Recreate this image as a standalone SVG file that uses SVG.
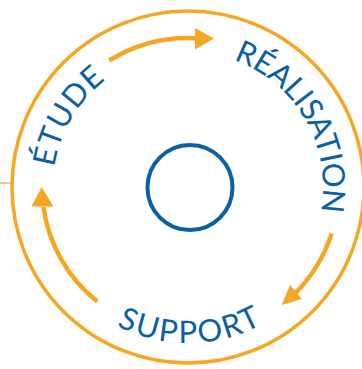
<svg xmlns="http://www.w3.org/2000/svg" xmlns:xlink="http://www.w3.org/1999/xlink" width="362" height="369" viewBox="0 0 362 369">
<style>
.ring{fill:none;stroke:#f6a623;stroke-width:3.5}
.arc{fill:none;stroke:#f6a623;stroke-width:4.5}
.head{fill:#f6a623}
.lbl{font-family:"Lato","Open Sans",sans-serif;font-size:31px;fill:#0b5fa5;letter-spacing:0.8px}
</style>
<defs>
<path id="cw" d="M 53,187 A 135 135 0 1 1 323,187 A 135 135 0 1 1 53,187"/>
<path id="ccw" d="M 32,187 A 156 156 0 0 0 344,187"/>
</defs>
<rect width="362" height="369" fill="#ffffff"/>
<g id="frame">
<line x1="0" y1="183" x2="13" y2="183" stroke="#f6a623" stroke-width="1.2"/>
<circle class="ring" cx="188" cy="187" r="176"/>
</g>
<g id="connectors">
<path class="arc" d="M 109.3,60.5 A 149 149 0 0 1 196,38.2"/>
<polygon class="head" points="214,38.5 195,28 195,49.5"/>
<path class="arc" d="M 331.7,233.4 A 151 151 0 0 1 295.1,293.4"/>
<polygon class="head" points="281.7,305 290,285 301.7,299"/>
<path class="arc" d="M 97.3,301.4 A 146 146 0 0 1 43.4,206.8"/>
<polygon class="head" points="41.7,187 31.5,206.5 53.5,206.5"/>
</g>
<g id="center">
<circle cx="190" cy="187.5" r="42.5" fill="none" stroke="#0b5fa5" stroke-width="4"/>
</g>
<g id="etude">
<text class="lbl" text-anchor="middle"><textPath xlink:href="#cw" href="#cw" startOffset="72">ÉTUDE</textPath></text>
</g>
<g id="realisation">
<text class="lbl" text-anchor="middle" style="letter-spacing:-0.3px"><textPath xlink:href="#cw" href="#cw" startOffset="353.4">RÉALISATION</textPath></text>
</g>
<g id="support">
<text class="lbl" text-anchor="middle" style="letter-spacing:2.1px"><textPath xlink:href="#ccw" href="#ccw" startOffset="247.5">SUPPORT</textPath></text>
</g>
</svg>
